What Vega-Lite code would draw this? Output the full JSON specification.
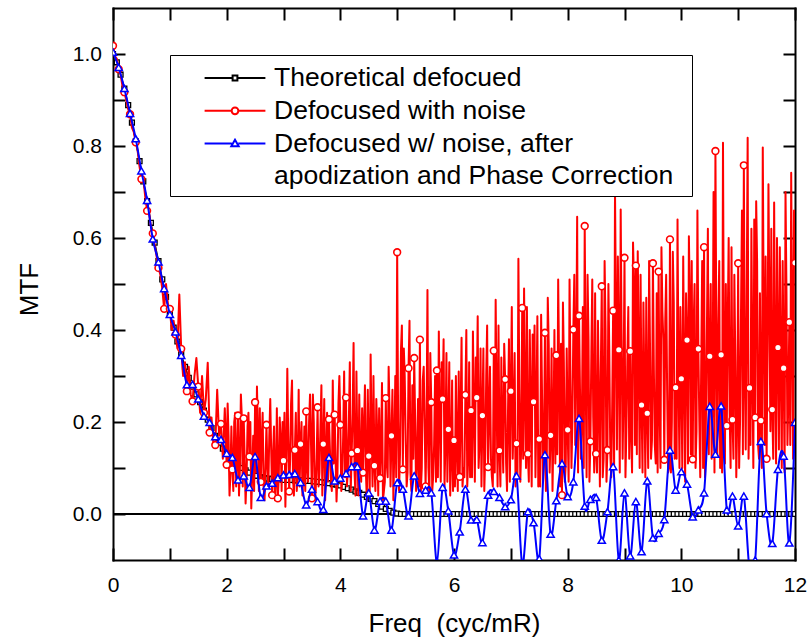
{
"$schema":"https://vega.github.io/schema/vega-lite/v6.json",
"width":682,"height":552,
"autosize":{"type":"none"},
"padding":{"left":113,"top":8,"right":13,"bottom":84},
"background":"white",
"config":{"font":"Liberation Sans","view":{"stroke":null},
"axis":{"grid":false,"labelColor":"black","titleColor":"black","tickColor":"black","domainColor":"black","domainWidth":2,"tickWidth":2,"titleFontWeight":"normal","labelOverlap":false,"labelFlush":false,"domainCap":"square"}},
"datasets":{
"theo":[{"x":0,"y":1.0},{"x":0.067,"y":0.982},{"x":0.133,"y":0.955},{"x":0.2,"y":0.925},{"x":0.267,"y":0.889},{"x":0.333,"y":0.851},{"x":0.4,"y":0.81},{"x":0.467,"y":0.767},{"x":0.533,"y":0.723},{"x":0.6,"y":0.68},{"x":0.667,"y":0.633},{"x":0.733,"y":0.59},{"x":0.8,"y":0.55},{"x":0.867,"y":0.51},{"x":0.933,"y":0.472},{"x":1.0,"y":0.435},{"x":1.067,"y":0.405},{"x":1.133,"y":0.375},{"x":1.2,"y":0.347},{"x":1.267,"y":0.32},{"x":1.333,"y":0.296},{"x":1.4,"y":0.277},{"x":1.467,"y":0.26},{"x":1.533,"y":0.243},{"x":1.6,"y":0.225},{"x":1.667,"y":0.205},{"x":1.733,"y":0.187},{"x":1.8,"y":0.17},{"x":1.867,"y":0.155},{"x":1.933,"y":0.142},{"x":2.0,"y":0.132},{"x":2.067,"y":0.122},{"x":2.133,"y":0.114},{"x":2.2,"y":0.106},{"x":2.267,"y":0.1},{"x":2.333,"y":0.095},{"x":2.4,"y":0.09},{"x":2.467,"y":0.086},{"x":2.533,"y":0.083},{"x":2.6,"y":0.08},{"x":2.667,"y":0.078},{"x":2.733,"y":0.077},{"x":2.8,"y":0.076},{"x":2.867,"y":0.075},{"x":2.933,"y":0.075},{"x":3.0,"y":0.074},{"x":3.067,"y":0.074},{"x":3.133,"y":0.074},{"x":3.2,"y":0.073},{"x":3.267,"y":0.073},{"x":3.333,"y":0.073},{"x":3.4,"y":0.072},{"x":3.467,"y":0.072},{"x":3.533,"y":0.071},{"x":3.6,"y":0.07},{"x":3.667,"y":0.069},{"x":3.733,"y":0.068},{"x":3.8,"y":0.067},{"x":3.867,"y":0.065},{"x":3.933,"y":0.064},{"x":4.0,"y":0.062},{"x":4.067,"y":0.059},{"x":4.133,"y":0.056},{"x":4.2,"y":0.053},{"x":4.267,"y":0.049},{"x":4.333,"y":0.046},{"x":4.4,"y":0.042},{"x":4.467,"y":0.037},{"x":4.533,"y":0.033},{"x":4.6,"y":0.028},{"x":4.667,"y":0.022},{"x":4.733,"y":0.016},{"x":4.8,"y":0.011},{"x":4.867,"y":0.007},{"x":4.933,"y":0.003},{"x":5.0,"y":0.001},
{"x":5.067,"y":0},{"x":5.133,"y":0},{"x":5.2,"y":0},{"x":5.267,"y":0},{"x":5.333,"y":0},{"x":5.4,"y":0},{"x":5.467,"y":0},{"x":5.533,"y":0},{"x":5.6,"y":0},{"x":5.667,"y":0},{"x":5.733,"y":0},{"x":5.8,"y":0},{"x":5.867,"y":0},{"x":5.933,"y":0},{"x":6.0,"y":0},
{"x":6.067,"y":0},{"x":6.133,"y":0},{"x":6.2,"y":0},{"x":6.267,"y":0},{"x":6.333,"y":0},{"x":6.4,"y":0},{"x":6.467,"y":0},{"x":6.533,"y":0},{"x":6.6,"y":0},{"x":6.667,"y":0},{"x":6.733,"y":0},{"x":6.8,"y":0},{"x":6.867,"y":0},{"x":6.933,"y":0},{"x":7.0,"y":0},
{"x":7.067,"y":0},{"x":7.133,"y":0},{"x":7.2,"y":0},{"x":7.267,"y":0},{"x":7.333,"y":0},{"x":7.4,"y":0},{"x":7.467,"y":0},{"x":7.533,"y":0},{"x":7.6,"y":0},{"x":7.667,"y":0},{"x":7.733,"y":0},{"x":7.8,"y":0},{"x":7.867,"y":0},{"x":7.933,"y":0},{"x":8.0,"y":0},
{"x":8.067,"y":0},{"x":8.133,"y":0},{"x":8.2,"y":0},{"x":8.267,"y":0},{"x":8.333,"y":0},{"x":8.4,"y":0},{"x":8.467,"y":0},{"x":8.533,"y":0},{"x":8.6,"y":0},{"x":8.667,"y":0},{"x":8.733,"y":0},{"x":8.8,"y":0},{"x":8.867,"y":0},{"x":8.933,"y":0},{"x":9.0,"y":0},
{"x":9.067,"y":0},{"x":9.133,"y":0},{"x":9.2,"y":0},{"x":9.267,"y":0},{"x":9.333,"y":0},{"x":9.4,"y":0},{"x":9.467,"y":0},{"x":9.533,"y":0},{"x":9.6,"y":0},{"x":9.667,"y":0},{"x":9.733,"y":0},{"x":9.8,"y":0},{"x":9.867,"y":0},{"x":9.933,"y":0},{"x":10.0,"y":0},
{"x":10.067,"y":0},{"x":10.133,"y":0},{"x":10.2,"y":0},{"x":10.267,"y":0},{"x":10.333,"y":0},{"x":10.4,"y":0},{"x":10.467,"y":0},{"x":10.533,"y":0},{"x":10.6,"y":0},{"x":10.667,"y":0},{"x":10.733,"y":0},{"x":10.8,"y":0},{"x":10.867,"y":0},{"x":10.933,"y":0},{"x":11.0,"y":0},
{"x":11.067,"y":0},{"x":11.133,"y":0},{"x":11.2,"y":0},{"x":11.267,"y":0},{"x":11.333,"y":0},{"x":11.4,"y":0},{"x":11.467,"y":0},{"x":11.533,"y":0},{"x":11.6,"y":0},{"x":11.667,"y":0},{"x":11.733,"y":0},{"x":11.8,"y":0},{"x":11.867,"y":0},{"x":11.933,"y":0},{"x":12.0,"y":0}],
"noisy":[{"x":0,"y":1.018},{"x":0.033,"y":0.995},{"x":0.067,"y":0.99},{"x":0.1,"y":0.967},{"x":0.133,"y":0.955},{"x":0.167,"y":0.93},{"x":0.2,"y":0.917},{"x":0.233,"y":0.9},{"x":0.267,"y":0.88},{"x":0.3,"y":0.869},{"x":0.333,"y":0.84},{"x":0.367,"y":0.83},{"x":0.4,"y":0.808},{"x":0.433,"y":0.79},{"x":0.467,"y":0.755},{"x":0.5,"y":0.728},{"x":0.533,"y":0.73},{"x":0.567,"y":0.69},{"x":0.6,"y":0.659},{"x":0.633,"y":0.655},{"x":0.667,"y":0.625},{"x":0.7,"y":0.61},{"x":0.733,"y":0.585},{"x":0.767,"y":0.56},{"x":0.8,"y":0.535},{"x":0.833,"y":0.52},{"x":0.867,"y":0.49},{"x":0.9,"y":0.446},{"x":0.933,"y":0.5},{"x":0.967,"y":0.455},
{"x":1.0,"y":0.446},{"x":1.033,"y":0.4},{"x":1.067,"y":0.42},{"x":1.1,"y":0.39},{"x":1.133,"y":0.36},{"x":1.167,"y":0.477},{"x":1.2,"y":0.359},{"x":1.233,"y":0.3},{"x":1.267,"y":0.33},{"x":1.3,"y":0.267},{"x":1.333,"y":0.32},{"x":1.367,"y":0.26},{"x":1.4,"y":0.245},{"x":1.433,"y":0.3},{"x":1.467,"y":0.339},{"x":1.5,"y":0.277},{"x":1.533,"y":0.22},{"x":1.567,"y":0.3},{"x":1.6,"y":0.22},{"x":1.633,"y":0.25},{"x":1.667,"y":0.329},{"x":1.7,"y":0.177},{"x":1.733,"y":0.21},{"x":1.767,"y":0.15},{"x":1.8,"y":0.15},{"x":1.833,"y":0.27},{"x":1.867,"y":0.17},{"x":1.9,"y":0.196},{"x":1.933,"y":0.12},{"x":1.967,"y":0.23},
{"x":2.0,"y":0.107},{"x":2.033,"y":0.17},{"x":2.067,"y":0.09},{"x":2.1,"y":0.097},{"x":2.133,"y":0.2},{"x":2.167,"y":0.06},{"x":2.2,"y":0.214},{"x":2.233,"y":0.1},{"x":2.267,"y":0.21},{"x":2.3,"y":0.208},{"x":2.333,"y":0.023},{"x":2.367,"y":0.19},{"x":2.4,"y":0.125},{"x":2.433,"y":0.012},{"x":2.467,"y":0.17},{"x":2.5,"y":0.243},{"x":2.533,"y":0.277},{"x":2.567,"y":0.05},{"x":2.6,"y":0.07},{"x":2.633,"y":0.22},{"x":2.667,"y":0.03},{"x":2.7,"y":0.194},{"x":2.733,"y":0.06},{"x":2.767,"y":0.25},{"x":2.8,"y":0.041},{"x":2.833,"y":0.19},{"x":2.867,"y":0.07},{"x":2.9,"y":0.034},{"x":2.933,"y":0.21},{"x":2.967,"y":0.05},
{"x":3.0,"y":0.116},{"x":3.033,"y":0.016},{"x":3.067,"y":0.316},{"x":3.1,"y":0.049},{"x":3.133,"y":0.24},{"x":3.167,"y":0.08},{"x":3.2,"y":0.139},{"x":3.233,"y":0.05},{"x":3.267,"y":0.27},{"x":3.3,"y":0.152},{"x":3.333,"y":0.04},{"x":3.367,"y":0.19},{"x":3.4,"y":0.223},{"x":3.433,"y":0.07},{"x":3.467,"y":0.26},{"x":3.5,"y":0.034},{"x":3.533,"y":0.2},{"x":3.567,"y":0.05},{"x":3.6,"y":0.232},{"x":3.633,"y":0.09},{"x":3.667,"y":0.28},{"x":3.7,"y":0.152},{"x":3.733,"y":0.03},{"x":3.767,"y":0.22},{"x":3.8,"y":0.206},{"x":3.833,"y":0.08},{"x":3.867,"y":0.29},{"x":3.9,"y":0.216},{"x":3.933,"y":0.027},{"x":3.967,"y":0.24},
{"x":4.0,"y":0.194},{"x":4.033,"y":0.07},{"x":4.067,"y":0.31},{"x":4.1,"y":0.253},{"x":4.133,"y":0.1},{"x":4.167,"y":0.33},{"x":4.2,"y":0.132},{"x":4.233,"y":0.372},{"x":4.267,"y":0.04},{"x":4.3,"y":0.138},{"x":4.333,"y":0.26},{"x":4.367,"y":0.07},{"x":4.4,"y":0.09},{"x":4.433,"y":0.28},{"x":4.467,"y":0.03},{"x":4.5,"y":0.126},{"x":4.533,"y":0.347},{"x":4.567,"y":0.06},{"x":4.6,"y":0.105},{"x":4.633,"y":0.25},{"x":4.667,"y":0.04},{"x":4.7,"y":0.078},{"x":4.733,"y":0.285},{"x":4.767,"y":0.05},{"x":4.8,"y":0.252},{"x":4.833,"y":0.08},{"x":4.867,"y":0.22},{"x":4.9,"y":0.17},{"x":4.933,"y":0.03},{"x":4.967,"y":0.3},
{"x":5.0,"y":0.569},{"x":5.033,"y":0.05},{"x":5.067,"y":0.357},{"x":5.1,"y":0.097},{"x":5.133,"y":0.3},{"x":5.167,"y":0.06},{"x":5.2,"y":0.317},{"x":5.233,"y":0.09},{"x":5.267,"y":0.28},{"x":5.3,"y":0.339},{"x":5.333,"y":0.05},{"x":5.367,"y":0.25},{"x":5.4,"y":0.379},{"x":5.433,"y":0.1},{"x":5.467,"y":0.32},{"x":5.5,"y":0.06},{"x":5.533,"y":0.487},{"x":5.567,"y":0.04},{"x":5.6,"y":0.243},{"x":5.633,"y":0.08},{"x":5.667,"y":0.3},{"x":5.7,"y":0.312},{"x":5.733,"y":0.397},{"x":5.767,"y":0.07},{"x":5.8,"y":0.25},{"x":5.833,"y":0.06},{"x":5.867,"y":0.35},{"x":5.9,"y":0.184},{"x":5.933,"y":0.04},{"x":5.967,"y":0.29},
{"x":6.0,"y":0.16},{"x":6.033,"y":0.3},{"x":6.067,"y":0.05},{"x":6.1,"y":0.081},{"x":6.133,"y":0.383},{"x":6.167,"y":0.1},{"x":6.2,"y":0.259},{"x":6.233,"y":0.06},{"x":6.267,"y":0.33},{"x":6.3,"y":0.225},{"x":6.333,"y":0.397},{"x":6.367,"y":0.07},{"x":6.4,"y":0.253},{"x":6.433,"y":0.1},{"x":6.467,"y":0.36},{"x":6.5,"y":0.214},{"x":6.533,"y":0.05},{"x":6.567,"y":0.3},{"x":6.6,"y":0.102},{"x":6.633,"y":0.32},{"x":6.667,"y":0.08},{"x":6.7,"y":0.355},{"x":6.733,"y":0.466},{"x":6.767,"y":0.06},{"x":6.8,"y":0.138},{"x":6.833,"y":0.34},{"x":6.867,"y":0.09},{"x":6.9,"y":0.293},{"x":6.933,"y":0.05},{"x":6.967,"y":0.38},
{"x":7.0,"y":0.267},{"x":7.033,"y":0.12},{"x":7.067,"y":0.35},{"x":7.1,"y":0.153},{"x":7.133,"y":0.555},{"x":7.167,"y":0.07},{"x":7.2,"y":0.448},{"x":7.233,"y":0.49},{"x":7.267,"y":0.1},{"x":7.3,"y":0.131},{"x":7.333,"y":0.4},{"x":7.367,"y":0.06},{"x":7.4,"y":0.244},{"x":7.433,"y":0.08},{"x":7.467,"y":0.43},{"x":7.5,"y":0.163},{"x":7.533,"y":0.433},{"x":7.567,"y":0.07},{"x":7.6,"y":0.394},{"x":7.633,"y":0.12},{"x":7.667,"y":0.368},{"x":7.7,"y":0.171},{"x":7.733,"y":0.05},{"x":7.767,"y":0.4},{"x":7.8,"y":0.345},{"x":7.833,"y":0.51},{"x":7.867,"y":0.06},{"x":7.9,"y":0.041},{"x":7.933,"y":0.33},{"x":7.967,"y":0.11},
{"x":8.0,"y":0.183},{"x":8.033,"y":0.51},{"x":8.067,"y":0.1},{"x":8.1,"y":0.401},{"x":8.133,"y":0.15},{"x":8.167,"y":0.646},{"x":8.2,"y":0.431},{"x":8.233,"y":0.12},{"x":8.267,"y":0.45},{"x":8.3,"y":0.626},{"x":8.333,"y":0.08},{"x":8.367,"y":0.38},{"x":8.4,"y":0.158},{"x":8.433,"y":0.51},{"x":8.467,"y":0.09},{"x":8.5,"y":0.131},{"x":8.533,"y":0.42},{"x":8.567,"y":0.06},{"x":8.6,"y":0.495},{"x":8.633,"y":0.12},{"x":8.667,"y":0.4},{"x":8.7,"y":0.139},{"x":8.733,"y":0.35},{"x":8.767,"y":0.08},{"x":8.8,"y":0.442},{"x":8.833,"y":0.702},{"x":8.867,"y":0.14},{"x":8.9,"y":0.357},{"x":8.933,"y":0.662},{"x":8.967,"y":0.12},
{"x":9.0,"y":0.557},{"x":9.033,"y":0.18},{"x":9.067,"y":0.45},{"x":9.1,"y":0.354},{"x":9.133,"y":0.09},{"x":9.167,"y":0.5},{"x":9.2,"y":0.54},{"x":9.233,"y":0.571},{"x":9.267,"y":0.1},{"x":9.3,"y":0.237},{"x":9.333,"y":0.46},{"x":9.367,"y":0.08},{"x":9.4,"y":0.219},{"x":9.433,"y":0.55},{"x":9.467,"y":0.12},{"x":9.5,"y":0.545},{"x":9.533,"y":0.15},{"x":9.567,"y":0.48},{"x":9.6,"y":0.527},{"x":9.633,"y":0.1},{"x":9.667,"y":0.44},{"x":9.7,"y":0.118},{"x":9.733,"y":0.52},{"x":9.767,"y":0.09},{"x":9.8,"y":0.597},{"x":9.833,"y":0.2},{"x":9.867,"y":0.46},{"x":9.9,"y":0.275},{"x":9.933,"y":0.64},{"x":9.967,"y":0.1},
{"x":10.0,"y":0.294},{"x":10.033,"y":0.56},{"x":10.067,"y":0.07},{"x":10.1,"y":0.378},{"x":10.133,"y":0.604},{"x":10.167,"y":0.13},{"x":10.2,"y":0.119},{"x":10.233,"y":0.5},{"x":10.267,"y":0.18},{"x":10.3,"y":0.359},{"x":10.333,"y":0.08},{"x":10.367,"y":0.55},{"x":10.4,"y":0.58},{"x":10.433,"y":0.21},{"x":10.467,"y":0.62},{"x":10.5,"y":0.343},{"x":10.533,"y":0.12},{"x":10.567,"y":0.7},{"x":10.6,"y":0.789},{"x":10.633,"y":0.13},{"x":10.667,"y":0.55},{"x":10.7,"y":0.346},{"x":10.733,"y":0.807},{"x":10.767,"y":0.11},{"x":10.8,"y":0.192},{"x":10.833,"y":0.6},{"x":10.867,"y":0.1},{"x":10.9,"y":0.205},{"x":10.933,"y":0.52},{"x":10.967,"y":0.08},
{"x":11.0,"y":0.545},{"x":11.033,"y":0.2},{"x":11.067,"y":0.66},{"x":11.1,"y":0.758},{"x":11.133,"y":0.14},{"x":11.167,"y":0.818},{"x":11.2,"y":0.274},{"x":11.233,"y":0.62},{"x":11.267,"y":0.1},{"x":11.3,"y":0.21},{"x":11.333,"y":0.55},{"x":11.367,"y":0.12},{"x":11.4,"y":0.203},{"x":11.433,"y":0.797},{"x":11.467,"y":0.15},{"x":11.5,"y":0.12},{"x":11.533,"y":0.717},{"x":11.567,"y":0.18},{"x":11.6,"y":0.227},{"x":11.633,"y":0.677},{"x":11.667,"y":0.11},{"x":11.7,"y":0.362},{"x":11.733,"y":0.58},{"x":11.767,"y":0.1},{"x":11.8,"y":0.317},{"x":11.833,"y":0.7},{"x":11.867,"y":0.15},{"x":11.9,"y":0.417},{"x":11.933,"y":0.742},{"x":11.967,"y":0.12},
{"x":12.0,"y":0.546},
{"x":2.017,"y":0.24},{"x":2.05,"y":0.04},{"x":2.083,"y":0.19},{"x":2.117,"y":0.05},{"x":2.15,"y":0.22},{"x":2.183,"y":0.12},{"x":2.217,"y":0.04},{"x":2.25,"y":0.26},{"x":2.283,"y":0.06},{"x":2.317,"y":0.12},{"x":2.35,"y":0.08},{"x":2.383,"y":0.22},{"x":2.417,"y":0.2},{"x":2.45,"y":0.09},{"x":2.483,"y":0.05},{"x":2.517,"y":0.09},{"x":2.55,"y":0.18},{"x":2.583,"y":0.23},{"x":2.617,"y":0.16},{"x":2.65,"y":0.06},{"x":2.683,"y":0.1},{"x":2.717,"y":0.1},{"x":2.75,"y":0.17},{"x":2.783,"y":0.14},{"x":2.817,"y":0.13},{"x":2.85,"y":0.03},{"x":2.883,"y":0.23},{"x":2.917,"y":0.08},{"x":2.95,"y":0.16},{"x":2.983,"y":0.2},
{"x":3.017,"y":0.22},{"x":3.05,"y":0.12},{"x":3.083,"y":0.17},{"x":3.117,"y":0.12},{"x":3.15,"y":0.29},{"x":3.183,"y":0.04},{"x":3.217,"y":0.22},{"x":3.25,"y":0.1},{"x":3.283,"y":0.06},{"x":3.317,"y":0.2},{"x":3.35,"y":0.09},{"x":3.383,"y":0.05},{"x":3.417,"y":0.1},{"x":3.45,"y":0.2},{"x":3.483,"y":0.16},{"x":3.517,"y":0.26},{"x":3.55,"y":0.03},{"x":3.583,"y":0.12},{"x":3.617,"y":0.06},{"x":3.65,"y":0.19},{"x":3.683,"y":0.04},{"x":3.717,"y":0.25},{"x":3.75,"y":0.12},{"x":3.783,"y":0.07},{"x":3.817,"y":0.14},{"x":3.85,"y":0.05},{"x":3.883,"y":0.11},{"x":3.917,"y":0.12},{"x":3.95,"y":0.09},{"x":3.983,"y":0.3},
{"x":4.017,"y":0.05},{"x":4.05,"y":0.17},{"x":4.083,"y":0.08},{"x":4.117,"y":0.06},{"x":4.15,"y":0.2},{"x":4.183,"y":0.05},{"x":4.217,"y":0.22},{"x":4.25,"y":0.09},{"x":4.283,"y":0.31},{"x":4.317,"y":0.04},{"x":4.35,"y":0.12},{"x":4.383,"y":0.23},{"x":4.417,"y":0.19},{"x":4.45,"y":0.09},{"x":4.483,"y":0.27},{"x":4.517,"y":0.04},{"x":4.55,"y":0.17},{"x":4.583,"y":0.3},{"x":4.617,"y":0.05},{"x":4.65,"y":0.17},{"x":4.683,"y":0.23},{"x":4.717,"y":0.14},{"x":4.75,"y":0.03},{"x":4.783,"y":0.07},{"x":4.817,"y":0.11},{"x":4.85,"y":0.32},{"x":4.883,"y":0.06},{"x":4.917,"y":0.27},{"x":4.95,"y":0.14},{"x":4.983,"y":0.08},
{"x":5.017,"y":0.2},{"x":5.05,"y":0.13},{"x":5.083,"y":0.41},{"x":5.117,"y":0.36},{"x":5.15,"y":0.16},{"x":5.183,"y":0.09},{"x":5.217,"y":0.42},{"x":5.25,"y":0.05},{"x":5.283,"y":0.12},{"x":5.317,"y":0.2},{"x":5.35,"y":0.12},{"x":5.383,"y":0.06},{"x":5.417,"y":0.05},{"x":5.45,"y":0.29},{"x":5.483,"y":0.2},{"x":5.517,"y":0.19},{"x":5.55,"y":0.1},{"x":5.583,"y":0.35},{"x":5.617,"y":0.05},{"x":5.65,"y":0.15},{"x":5.683,"y":0.07},{"x":5.717,"y":0.08},{"x":5.75,"y":0.2},{"x":5.783,"y":0.33},{"x":5.817,"y":0.38},{"x":5.85,"y":0.16},{"x":5.883,"y":0.07},{"x":5.917,"y":0.33},{"x":5.95,"y":0.12},{"x":5.983,"y":0.05},
{"x":6.017,"y":0.06},{"x":6.05,"y":0.15},{"x":6.083,"y":0.31},{"x":6.117,"y":0.22},{"x":6.15,"y":0.06},{"x":6.183,"y":0.08},{"x":6.217,"y":0.4},{"x":6.25,"y":0.12},{"x":6.283,"y":0.08},{"x":6.317,"y":0.08},{"x":6.35,"y":0.23},{"x":6.383,"y":0.34},{"x":6.417,"y":0.43},{"x":6.45,"y":0.16},{"x":6.483,"y":0.06},{"x":6.517,"y":0.36},{"x":6.55,"y":0.13},{"x":6.583,"y":0.41},{"x":6.617,"y":0.22},{"x":6.65,"y":0.12},{"x":6.683,"y":0.06},{"x":6.717,"y":0.09},{"x":6.75,"y":0.25},{"x":6.783,"y":0.41},{"x":6.817,"y":0.06},{"x":6.85,"y":0.17},{"x":6.883,"y":0.37},{"x":6.917,"y":0.11},{"x":6.95,"y":0.22},{"x":6.983,"y":0.07},
{"x":7.017,"y":0.45},{"x":7.05,"y":0.21},{"x":7.083,"y":0.06},{"x":7.117,"y":0.08},{"x":7.15,"y":0.27},{"x":7.183,"y":0.15},{"x":7.217,"y":0.12},{"x":7.25,"y":0.26},{"x":7.283,"y":0.45},{"x":7.317,"y":0.07},{"x":7.35,"y":0.23},{"x":7.383,"y":0.39},{"x":7.417,"y":0.41},{"x":7.45,"y":0.22},{"x":7.483,"y":0.06},{"x":7.517,"y":0.06},{"x":7.55,"y":0.25},{"x":7.583,"y":0.14},{"x":7.617,"y":0.05},{"x":7.65,"y":0.47},{"x":7.683,"y":0.09},{"x":7.717,"y":0.36},{"x":7.75,"y":0.18},{"x":7.783,"y":0.11},{"x":7.817,"y":0.13},{"x":7.85,"y":0.32},{"x":7.883,"y":0.37},{"x":7.917,"y":0.46},{"x":7.95,"y":0.07},{"x":7.983,"y":0.36},
{"x":8.017,"y":0.07},{"x":8.05,"y":0.28},{"x":8.083,"y":0.2},{"x":8.117,"y":0.52},{"x":8.15,"y":0.33},{"x":8.183,"y":0.09},{"x":8.217,"y":0.27},{"x":8.25,"y":0.2},{"x":8.283,"y":0.1},{"x":8.317,"y":0.3},{"x":8.35,"y":0.52},{"x":8.383,"y":0.07},{"x":8.417,"y":0.35},{"x":8.45,"y":0.21},{"x":8.483,"y":0.48},{"x":8.517,"y":0.09},{"x":8.55,"y":0.25},{"x":8.583,"y":0.31},{"x":8.617,"y":0.08},{"x":8.65,"y":0.55},{"x":8.683,"y":0.07},{"x":8.717,"y":0.5},{"x":8.75,"y":0.13},{"x":8.783,"y":0.23},{"x":8.817,"y":0.1},{"x":8.85,"y":0.43},{"x":8.883,"y":0.56},{"x":8.917,"y":0.09},{"x":8.95,"y":0.36},{"x":8.983,"y":0.27},
{"x":9.017,"y":0.08},{"x":9.05,"y":0.33},{"x":9.083,"y":0.12},{"x":9.117,"y":0.18},{"x":9.15,"y":0.59},{"x":9.183,"y":0.15},{"x":9.217,"y":0.13},{"x":9.25,"y":0.35},{"x":9.283,"y":0.52},{"x":9.317,"y":0.09},{"x":9.35,"y":0.27},{"x":9.383,"y":0.47},{"x":9.417,"y":0.1},{"x":9.45,"y":0.35},{"x":9.483,"y":0.16},{"x":9.517,"y":0.31},{"x":9.55,"y":0.11},{"x":9.583,"y":0.09},{"x":9.617,"y":0.24},{"x":9.65,"y":0.58},{"x":9.683,"y":0.38},{"x":9.717,"y":0.42},{"x":9.75,"y":0.27},{"x":9.783,"y":0.1},{"x":9.817,"y":0.09},{"x":9.85,"y":0.57},{"x":9.883,"y":0.12},{"x":9.917,"y":0.12},{"x":9.95,"y":0.3},{"x":9.983,"y":0.45},
{"x":10.017,"y":0.1},{"x":10.05,"y":0.31},{"x":10.083,"y":0.48},{"x":10.117,"y":0.11},{"x":10.15,"y":0.46},{"x":10.183,"y":0.55},{"x":10.217,"y":0.41},{"x":10.25,"y":0.1},{"x":10.283,"y":0.66},{"x":10.317,"y":0.2},{"x":10.35,"y":0.33},{"x":10.383,"y":0.1},{"x":10.417,"y":0.08},{"x":10.45,"y":0.4},{"x":10.483,"y":0.13},{"x":10.517,"y":0.5},{"x":10.55,"y":0.26},{"x":10.583,"y":0.09},{"x":10.617,"y":0.36},{"x":10.65,"y":0.41},{"x":10.683,"y":0.1},{"x":10.717,"y":0.09},{"x":10.75,"y":0.29},{"x":10.783,"y":0.5},{"x":10.817,"y":0.42},{"x":10.85,"y":0.22},{"x":10.883,"y":0.58},{"x":10.917,"y":0.12},{"x":10.95,"y":0.33},{"x":10.983,"y":0.2},
{"x":11.017,"y":0.1},{"x":11.05,"y":0.44},{"x":11.083,"y":0.13},{"x":11.117,"y":0.3},{"x":11.15,"y":0.47},{"x":11.183,"y":0.12},{"x":11.217,"y":0.15},{"x":11.25,"y":0.31},{"x":11.283,"y":0.64},{"x":11.317,"y":0.68},{"x":11.35,"y":0.15},{"x":11.383,"y":0.48},{"x":11.417,"y":0.1},{"x":11.45,"y":0.42},{"x":11.483,"y":0.56},{"x":11.517,"y":0.36},{"x":11.55,"y":0.45},{"x":11.583,"y":0.62},{"x":11.617,"y":0.12},{"x":11.65,"y":0.29},{"x":11.683,"y":0.6},{"x":11.717,"y":0.14},{"x":11.75,"y":0.33},{"x":11.783,"y":0.55},{"x":11.817,"y":0.09},{"x":11.85,"y":0.48},{"x":11.883,"y":0.25},{"x":11.917,"y":0.15},{"x":11.95,"y":0.4},{"x":11.983,"y":0.66}],
"corr":[{"x":0,"y":1.004},{"x":0.1,"y":0.971},{"x":0.2,"y":0.925},{"x":0.3,"y":0.871},{"x":0.4,"y":0.816},{"x":0.5,"y":0.746},{"x":0.6,"y":0.682},{"x":0.7,"y":0.598},{"x":0.8,"y":0.548},{"x":0.9,"y":0.49},
{"x":1.0,"y":0.434},{"x":1.1,"y":0.396},{"x":1.2,"y":0.345},{"x":1.3,"y":0.281},{"x":1.4,"y":0.282},{"x":1.5,"y":0.25},{"x":1.6,"y":0.213},{"x":1.7,"y":0.199},{"x":1.8,"y":0.168},{"x":1.9,"y":0.162},
{"x":2.0,"y":0.132},{"x":2.1,"y":0.123},{"x":2.2,"y":0.074},{"x":2.3,"y":0.083},{"x":2.4,"y":0.058},{"x":2.5,"y":0.125},{"x":2.6,"y":0.036},{"x":2.7,"y":0.061},{"x":2.8,"y":0.067},{"x":2.9,"y":0.079},
{"x":3.0,"y":0.085},{"x":3.1,"y":0.086},{"x":3.2,"y":0.088},{"x":3.3,"y":0.069},{"x":3.4,"y":0.02},{"x":3.5,"y":0.054},{"x":3.6,"y":0.027},{"x":3.7,"y":0.01},{"x":3.8,"y":0.123},{"x":3.9,"y":0.072},
{"x":4.0,"y":0.078},{"x":4.1,"y":0.088},{"x":4.2,"y":0.103},{"x":4.3,"y":0.103},{"x":4.4,"y":-0.004},{"x":4.5,"y":0.046},{"x":4.6,"y":-0.035},{"x":4.7,"y":0.028},{"x":4.8,"y":0.028},{"x":4.9,"y":-0.035},
{"x":5.0,"y":0.068},{"x":5.1,"y":0.054},{"x":5.2,"y":-0.004},{"x":5.3,"y":0.083},{"x":5.4,"y":0.045},{"x":5.5,"y":0.052},{"x":5.6,"y":0.046},{"x":5.7,"y":-0.104},{"x":5.8,"y":0.058},{"x":5.9,"y":0.007},
{"x":6.0,"y":-0.089},{"x":6.1,"y":-0.039},{"x":6.2,"y":0.054},{"x":6.3,"y":-0.013},{"x":6.4,"y":-0.012},{"x":6.5,"y":-0.062},{"x":6.6,"y":0.041},{"x":6.7,"y":0.049},{"x":6.8,"y":0.036},{"x":6.9,"y":0.016},
{"x":7.0,"y":0.031},{"x":7.1,"y":0.083},{"x":7.2,"y":-0.11},{"x":7.3,"y":0.005},{"x":7.4,"y":-0.019},{"x":7.5,"y":-0.097},{"x":7.6,"y":0.129},{"x":7.7,"y":-0.044},{"x":7.8,"y":0.029},{"x":7.9,"y":0.11},
{"x":8.0,"y":0.038},{"x":8.1,"y":0.07},{"x":8.2,"y":0.208},{"x":8.3,"y":0.017},{"x":8.4,"y":0.032},{"x":8.5,"y":0.036},{"x":8.6,"y":-0.057},{"x":8.7,"y":0.005},{"x":8.8,"y":0.103},{"x":8.9,"y":-0.1},
{"x":9.0,"y":0.046},{"x":9.1,"y":-0.091},{"x":9.2,"y":0.027},{"x":9.3,"y":-0.082},{"x":9.4,"y":0.072},{"x":9.5,"y":-0.052},{"x":9.6,"y":-0.042},{"x":9.7,"y":-0.012},{"x":9.8,"y":0.139},{"x":9.9,"y":0.052},
{"x":10.0,"y":0.092},{"x":10.1,"y":0.065},{"x":10.2,"y":-0.006},{"x":10.3,"y":0.009},{"x":10.4,"y":0.046},{"x":10.5,"y":0.234},{"x":10.6,"y":0.13},{"x":10.7,"y":0.235},{"x":10.8,"y":0.009},{"x":10.9,"y":0.039},
{"x":11.0,"y":-0.026},{"x":11.1,"y":0.039},{"x":11.2,"y":-0.12},{"x":11.3,"y":-0.1},{"x":11.4,"y":0.158},{"x":11.5,"y":0.001},{"x":11.6,"y":-0.064},{"x":11.7,"y":0.097},{"x":11.8,"y":0.126},{"x":11.9,"y":-0.063},
{"x":12.0,"y":0.199}],
"leg":[{"s":"Theoretical defocued"},{"s":"Defocused with noise"},{"s":"Defocused w/ noise, after"},{"s":"apodization and Phase Correction"}]
},
"resolve":{"axis":{"x":"independent","y":"independent"}},
"layer":[
{"data":{"values":[{}]},
 "mark":{"type":"rule","color":"black","strokeWidth":2},
 "encoding":{"y":{"datum":0,"type":"quantitative","scale":{"domain":[-0.1,1.1],"nice":false,"zero":false},"axis":null}}},
{"data":{"name":"theo"},
 "mark":{"type":"line","color":"black","strokeWidth":1.5,"clip":true},
 "encoding":{
  "x":{"field":"x","type":"quantitative","scale":{"domain":[0,12],"nice":false,"zero":false},
   "axis":{"orient":"bottom","values":[0,1,2,3,4,5,6,7,8,9,10,11,12],"format":"d","labelExpr":"datum.value % 2 == 0 ? datum.label : ''","tickSize":-12,"labelFontSize":21,"labelPadding":26,"title":"Freq\u00a0 (cyc/mR)","titleFontSize":26,"titleBaseline":"alphabetic","titleY":71,
    "encode":{"ticks":{"y2":{"value":{"expr":"datum.value % 2 == 0 ? -12 : -7"}}}}}},
  "y":{"field":"y","type":"quantitative","scale":{"domain":[-0.1,1.1],"nice":false,"zero":false},
   "axis":{"orient":"left","values":[0,0.1,0.2,0.3,0.4,0.5,0.6,0.7,0.8,0.9,1.0],"format":".1f","labelExpr":"round(datum.value*10) % 2 == 0 ? datum.label : ''","tickSize":-12,"labelFontSize":21,"labelPadding":23.5,"title":"MTF","titleFontSize":26,"titleAngle":270,"titleBaseline":"alphabetic","titleX":-76,"titleY":281,
    "encode":{"ticks":{"x2":{"value":{"expr":"round(datum.value*10) % 2 == 0 ? 12 : 7"}}}}}}}},
{"data":{"name":"theo"},
 "mark":{"type":"point","shape":"square","size":24,"filled":true,"fill":"white","stroke":"black","strokeWidth":1.3,"opacity":1,"clip":true},
 "encoding":{
  "x":{"field":"x","type":"quantitative","scale":{"domain":[0,12],"nice":false,"zero":false},"axis":null},
  "y":{"field":"y","type":"quantitative","scale":{"domain":[-0.1,1.1],"nice":false,"zero":false},"axis":null}}},
{"data":{"name":"noisy"},
 "mark":{"type":"line","color":"#ff0000","strokeWidth":2,"strokeJoin":"round","clip":true},
 "encoding":{
  "x":{"field":"x","type":"quantitative","scale":{"domain":[0,12],"nice":false,"zero":false},
   "axis":{"orient":"top","values":[0,1,2,3,4,5,6,7,8,9,10,11,12],"labels":false,"tickSize":-12,"title":null,
    "encode":{"ticks":{"y2":{"value":{"expr":"datum.value % 2 == 0 ? 12 : 7"}}}}}},
  "y":{"field":"y","type":"quantitative","scale":{"domain":[-0.1,1.1],"nice":false,"zero":false},
   "axis":{"orient":"right","values":[0,0.1,0.2,0.3,0.4,0.5,0.6,0.7,0.8,0.9,1.0],"labels":false,"tickSize":-12,"title":null,
    "encode":{"ticks":{"x2":{"value":{"expr":"round(datum.value*10) % 2 == 0 ? -12 : -7"}}}}}}}},
{"data":{"name":"noisy"},
 "transform":[{"filter":"abs(datum.x*10 - round(datum.x*10)) < 0.01"}],
 "mark":{"type":"point","shape":"circle","size":46,"filled":true,"fill":"white","stroke":"#ff0000","strokeWidth":1.6,"opacity":1,"clip":true},
 "encoding":{
  "x":{"field":"x","type":"quantitative","scale":{"domain":[0,12],"nice":false,"zero":false},"axis":null},
  "y":{"field":"y","type":"quantitative","scale":{"domain":[-0.1,1.1],"nice":false,"zero":false},"axis":null}}},
{"data":{"name":"corr"},
 "mark":{"type":"line","color":"#0000ff","strokeWidth":2,"interpolate":"cardinal","clip":true},
 "encoding":{
  "x":{"field":"x","type":"quantitative","scale":{"domain":[0,12],"nice":false,"zero":false},"axis":null},
  "y":{"field":"y","type":"quantitative","scale":{"domain":[-0.1,1.1],"nice":false,"zero":false},"axis":null}}},
{"data":{"name":"corr"},
 "mark":{"type":"point","shape":"triangle-up","size":52,"filled":true,"fill":"white","stroke":"#0000ff","strokeWidth":1.5,"opacity":1,"clip":true},
 "encoding":{
  "x":{"field":"x","type":"quantitative","scale":{"domain":[0,12],"nice":false,"zero":false},"axis":null},
  "y":{"field":"y","type":"quantitative","scale":{"domain":[-0.1,1.1],"nice":false,"zero":false},"axis":null}}},
{"data":{"name":"leg"},
 "mark":{"type":"point","filled":false,"opacity":0,"size":1024},
 "encoding":{
  "color":{"field":"s","type":"nominal",
   "scale":{"domain":["Theoretical defocued","Defocused with noise","Defocused w/ noise, after","apodization and Phase Correction"],"range":["#000000","#ff0000","#0000ff","#ffffff"]},
   "legend":{"orient":"none","legendX":57,"legendY":47,"title":null,"padding":6,"strokeColor":"#000000","fillColor":"#ffffff","symbolSize":1024,"symbolStrokeWidth":2,"symbolOffset":42,"labelOffset":22,"labelFontSize":26.5,"labelColor":"black","labelFont":"Liberation Sans","labelBaseline":"middle","labelLimit":700,"rowPadding":1.8,
    "encode":{"symbols":{"opacity":{"value":1}}}}},
  "shape":{"field":"s","type":"nominal",
   "scale":{"domain":["Theoretical defocued","Defocused with noise","Defocused w/ noise, after","apodization and Phase Correction"],
    "range":["M-1.9,0H-0.15M0.15,0H1.9M-0.15,-0.15H0.15V0.15H-0.15Z","M-1.9,0H-0.21M0.21,0H1.9M0.21,0A0.21,0.21,0,1,1,-0.21,0A0.21,0.21,0,1,1,0.21,0Z","M-1.9,0H-0.2M0.2,0H1.9M0,-0.24L0.23,0.16H-0.23Z","M27.9,0"]}}}}
]
}
